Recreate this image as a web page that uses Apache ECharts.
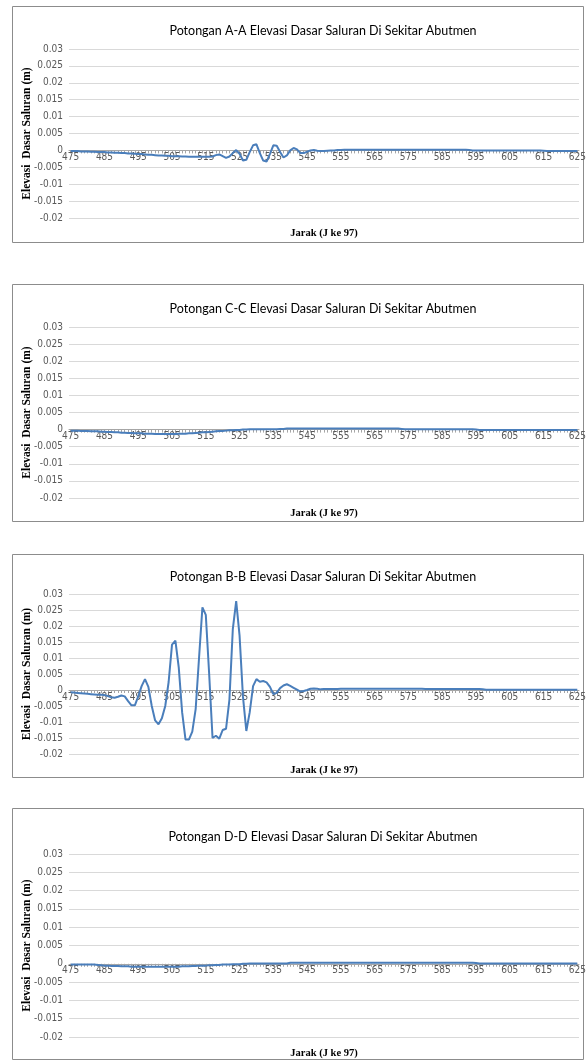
<!DOCTYPE html>
<html>
<head>
<meta charset="utf-8">
<script src="https://cdn.jsdelivr.net/npm/echarts@6/dist/echarts.min.js"></script>
<style>
html,body{margin:0;padding:0;background:#fff;}
#c{width:586px;height:1062px;}
</style>
</head>
<body>
<div id="c"></div>
<script>
// Categories: Jarak 475..625 step 1
var jarak = [];
for (var j = 475; j <= 625; j++) { jarak.push(String(j)); }

var titles = [
  'Potongan A-A Elevasi Dasar Saluran Di Sekitar Abutmen',
  'Potongan C-C Elevasi Dasar Saluran Di Sekitar Abutmen',
  'Potongan B-B Elevasi Dasar Saluran Di Sekitar Abutmen',
  'Potongan D-D Elevasi Dasar Saluran Di Sekitar Abutmen'
];
var yAxisName = 'Elevasi  Dasar Saluran (m)';
var xAxisName = 'Jarak (J ke 97)';
var yMin = -0.02, yMax = 0.03, yStep = 0.005;

var potonganAA = [
  -0.0002,-0.0002,-0.0002,-0.0003,-0.0003,-0.0003,-0.0004,-0.0004,-0.0005,-0.0005,
  -0.0005,-0.0006,-0.0006,-0.0007,-0.0007,-0.0008,-0.0008,-0.0009,-0.0009,-0.0010,
  -0.0011,-0.0011,-0.0012,-0.0013,-0.0013,-0.0014,-0.0015,-0.0015,-0.0016,-0.0016,
  -0.0017,-0.0017,-0.0017,-0.0018,-0.0018,-0.0019,-0.0019,-0.0019,-0.0019,-0.0019,
  -0.0019,-0.0019,-0.0018,-0.0014,-0.0012,-0.0017,-0.0022,-0.0018,-0.0008,0.0001,
  -0.0010,-0.0030,-0.0028,-0.0005,0.0015,0.0018,-0.0008,-0.0030,-0.0033,-0.0010,
  0.0015,0.0014,-0.0005,-0.0021,-0.0015,0.0000,0.0007,0.0003,-0.0008,-0.0008,
  -0.0004,0.0000,0.0001,-0.0001,-0.0002,-0.0002,-0.0001,0.0000,0.0000,0.0001,
  0.0001,0.0002,0.0002,0.0002,0.0002,0.0002,0.0002,0.0002,0.0002,0.0002,
  0.0002,0.0002,0.0002,0.0002,0.0002,0.0002,0.0002,0.0002,0.0002,0.0002,
  0.0002,0.0002,0.0002,0.0002,0.0002,0.0002,0.0002,0.0002,0.0002,0.0002,
  0.0002,0.0002,0.0002,0.0002,0.0002,0.0002,0.0002,0.0002,0.0001,0.0000,
  0.0000,0.0000,0.0000,0.0000,0.0000,0.0000,0.0000,0.0000,0.0000,0.0000,
  0.0000,0.0000,0.0000,0.0000,0.0000,0.0000,0.0000,0.0000,0.0000,0.0000,
  -0.0001,-0.0002,-0.0002,-0.0002,-0.0002,-0.0002,-0.0002,-0.0002,-0.0002,-0.0002,
  -0.0002
];

var potonganCC = [
  -0.0003,-0.0003,-0.0003,-0.0004,-0.0004,-0.0004,-0.0005,-0.0005,-0.0005,-0.0006,
  -0.0006,-0.0007,-0.0007,-0.0008,-0.0008,-0.0009,-0.0009,-0.0010,-0.0010,-0.0011,
  -0.0011,-0.0011,-0.0012,-0.0012,-0.0012,-0.0013,-0.0013,-0.0013,-0.0013,-0.0013,
  -0.0013,-0.0013,-0.0012,-0.0012,-0.0012,-0.0011,-0.0011,-0.0010,-0.0009,-0.0008,
  -0.0008,-0.0007,-0.0006,-0.0005,-0.0004,-0.0004,-0.0003,-0.0002,-0.0002,-0.0001,
  -0.0001,0.0000,0.0000,0.0001,0.0001,0.0001,0.0001,0.0001,0.0001,0.0001,
  0.0001,0.0001,0.0002,0.0002,0.0003,0.0003,0.0003,0.0003,0.0003,0.0003,
  0.0003,0.0003,0.0003,0.0003,0.0003,0.0003,0.0003,0.0003,0.0003,0.0003,
  0.0003,0.0003,0.0003,0.0003,0.0003,0.0003,0.0003,0.0003,0.0003,0.0003,
  0.0003,0.0003,0.0003,0.0003,0.0003,0.0003,0.0003,0.0003,0.0002,0.0001,
  0.0001,0.0001,0.0001,0.0001,0.0001,0.0001,0.0001,0.0001,0.0001,0.0001,
  0.0001,0.0001,0.0001,0.0001,0.0001,0.0001,0.0001,0.0001,0.0001,0.0001,
  0.0000,-0.0001,-0.0001,-0.0001,-0.0001,-0.0001,-0.0001,-0.0001,-0.0001,-0.0001,
  -0.0001,-0.0001,-0.0001,-0.0001,-0.0001,-0.0001,-0.0001,-0.0001,-0.0001,-0.0001,
  -0.0001,-0.0001,-0.0001,-0.0001,-0.0001,-0.0001,-0.0001,-0.0001,-0.0001,-0.0001,
  -0.0001
];

var potonganBB = [
  -0.0007,-0.0008,-0.0009,-0.0010,-0.0011,-0.0012,-0.0013,-0.0014,-0.0015,-0.0015,
  -0.0016,-0.0019,-0.0023,-0.0024,-0.0021,-0.0017,-0.0020,-0.0035,-0.0048,-0.0048,
  -0.0020,0.0012,0.0034,0.0010,-0.0050,-0.0095,-0.0107,-0.0088,-0.0050,0.0025,
  0.0142,0.0154,0.0070,-0.0070,-0.0155,-0.0155,-0.0130,-0.0060,0.0100,0.0258,
  0.0235,0.0050,-0.0150,-0.0143,-0.0152,-0.0125,-0.0121,-0.0030,0.0190,0.0278,
  0.0170,-0.0020,-0.0128,-0.0070,0.0012,0.0034,0.0026,0.0028,0.0024,0.0010,
  -0.0013,-0.0009,0.0006,0.0014,0.0018,0.0013,0.0007,0.0001,-0.0005,-0.0003,
  0.0000,0.0004,0.0005,0.0004,0.0002,0.0003,0.0003,0.0003,0.0003,0.0003,
  0.0004,0.0004,0.0004,0.0004,0.0004,0.0004,0.0004,0.0004,0.0004,0.0004,
  0.0004,0.0004,0.0004,0.0004,0.0004,0.0004,0.0004,0.0004,0.0004,0.0004,
  0.0004,0.0004,0.0004,0.0004,0.0004,0.0003,0.0003,0.0003,0.0003,0.0003,
  0.0003,0.0003,0.0003,0.0003,0.0003,0.0003,0.0003,0.0003,0.0003,0.0003,
  0.0003,0.0003,0.0002,0.0001,0.0001,0.0001,0.0001,0.0001,0.0001,0.0001,
  0.0001,0.0001,0.0001,0.0001,0.0001,0.0001,0.0001,0.0001,0.0001,0.0001,
  0.0001,0.0001,0.0001,0.0001,0.0001,0.0001,0.0001,0.0001,0.0001,0.0001,
  0.0001
];

var potonganDD = [
  -0.0002,-0.0002,-0.0002,-0.0002,-0.0002,-0.0002,-0.0002,-0.0002,-0.0003,-0.0004,
  -0.0005,-0.0005,-0.0006,-0.0006,-0.0006,-0.0007,-0.0007,-0.0007,-0.0008,-0.0008,
  -0.0008,-0.0008,-0.0008,-0.0008,-0.0008,-0.0008,-0.0008,-0.0008,-0.0008,-0.0008,
  -0.0008,-0.0008,-0.0008,-0.0007,-0.0007,-0.0007,-0.0006,-0.0006,-0.0005,-0.0005,
  -0.0005,-0.0004,-0.0004,-0.0003,-0.0003,-0.0002,-0.0002,-0.0002,-0.0001,-0.0001,
  -0.0001,0.0000,0.0000,0.0001,0.0001,0.0001,0.0001,0.0001,0.0001,0.0001,
  0.0001,0.0001,0.0001,0.0001,0.0001,0.0003,0.0003,0.0003,0.0003,0.0003,
  0.0003,0.0003,0.0003,0.0003,0.0003,0.0003,0.0003,0.0003,0.0003,0.0003,
  0.0003,0.0003,0.0003,0.0003,0.0003,0.0003,0.0003,0.0003,0.0003,0.0003,
  0.0003,0.0003,0.0003,0.0003,0.0003,0.0003,0.0003,0.0003,0.0003,0.0003,
  0.0003,0.0003,0.0003,0.0003,0.0003,0.0003,0.0003,0.0003,0.0003,0.0003,
  0.0003,0.0003,0.0003,0.0003,0.0003,0.0003,0.0003,0.0003,0.0003,0.0003,
  0.0002,0.0001,0.0001,0.0001,0.0001,0.0001,0.0001,0.0001,0.0001,0.0001,
  0.0001,0.0001,0.0001,0.0001,0.0001,0.0001,0.0001,0.0001,0.0001,0.0001,
  0.0001,0.0001,0.0001,0.0001,0.0001,0.0001,0.0001,0.0001,0.0001,0.0001,
  0.0001
];

var seriesData = [potonganAA, potonganCC, potonganBB, potonganDD];

// layout per panel (pixels)
var panels = [
  {boxTop: 6,   boxBottom: 242,  gridTop: 49,  gridBottom: 218,  titleY: 19,  nameY: 233},
  {boxTop: 284, boxBottom: 521,  gridTop: 327, gridBottom: 498,  titleY: 297, nameY: 513},
  {boxTop: 554, boxBottom: 777,  gridTop: 594, gridBottom: 754,  titleY: 565, nameY: 770},
  {boxTop: 808, boxBottom: 1059, gridTop: 854, gridBottom: 1037, titleY: 825, nameY: 1053}
];
var gridLeft = 69, gridRight = 579;

var labelFont = "'Liberation Sans Narrow','DejaVu Sans Condensed','Liberation Sans',sans-serif";
var serifFont = "'Liberation Serif','DejaVu Serif',serif";
var titleFont = "Lato,'Open Sans','Noto Sans',sans-serif";

var option = {
  backgroundColor: '#ffffff',
  animation: false,
  title: [], grid: [], xAxis: [], yAxis: [], series: [],
  graphic: []
};

panels.forEach(function (p, i) {
  var h = p.gridBottom - p.gridTop;
  var zeroY = p.gridTop + h * yMax / (yMax - yMin);
  option.graphic.push({
    type: 'rect', silent: true, z: -1,
    shape: {x: 12.5, y: p.boxTop + 0.5, width: 571, height: p.boxBottom - p.boxTop},
    style: {fill: 'none', stroke: '#8c8c8c', lineWidth: 1}
  });
  option.title.push({
    text: titles[i], left: 318, top: p.titleY, textAlign: 'center',
    textStyle: {fontFamily: titleFont, fontSize: 12.5, fontWeight: 'normal', color: '#000'}
  });
  option.grid.push({
    left: gridLeft, width: gridRight - gridLeft,
    top: p.gridTop, height: h, containLabel: false, outerBoundsMode: 'none'
  });
  option.xAxis.push({
    type: 'category', gridIndex: i, data: jarak, boundaryGap: true,
    position: 'bottom', offset: -(p.gridBottom - zeroY),
    name: xAxisName, nameLocation: 'middle', nameGap: p.nameY - zeroY - 5,
    nameMoveOverlap: false,
    nameTextStyle: {fontFamily: serifFont, fontWeight: 'bold', fontSize: 10.5, color: '#000'},
    axisLine: {onZero: false, lineStyle: {color: '#a6a6a6', width: 1}},
    axisTick: {show: true, interval: 0, alignWithLabel: true, length: 3, lineStyle: {color: '#a6a6a6'}},
    axisLabel: {interval: 9, margin: 2, fontFamily: labelFont, fontSize: 10, color: '#595959'},
    splitLine: {show: false}
  });
  option.yAxis.push({
    type: 'value', gridIndex: i, min: yMin, max: yMax, interval: yStep,
    name: yAxisName, nameLocation: 'middle', nameGap: 36, nameRotate: 90,
    nameMoveOverlap: false,
    nameTextStyle: {fontFamily: serifFont, fontWeight: 'bold', fontSize: 11.5, color: '#000'},
    axisLine: {show: false}, axisTick: {show: false},
    axisLabel: {margin: 6, fontFamily: labelFont, fontSize: 10, color: '#595959'},
    splitLine: {show: true, lineStyle: {color: '#d9d9d9', width: 1}}
  });
  option.series.push({
    type: 'line', xAxisIndex: i, yAxisIndex: i, data: seriesData[i],
    showSymbol: false, symbol: 'none', smooth: false,
    lineStyle: {color: '#4a7ebb', width: 2}
  });
});

var chart = echarts.init(document.getElementById('c'), null, {renderer: 'canvas'});
chart.setOption(option);
</script>
</body>
</html>
